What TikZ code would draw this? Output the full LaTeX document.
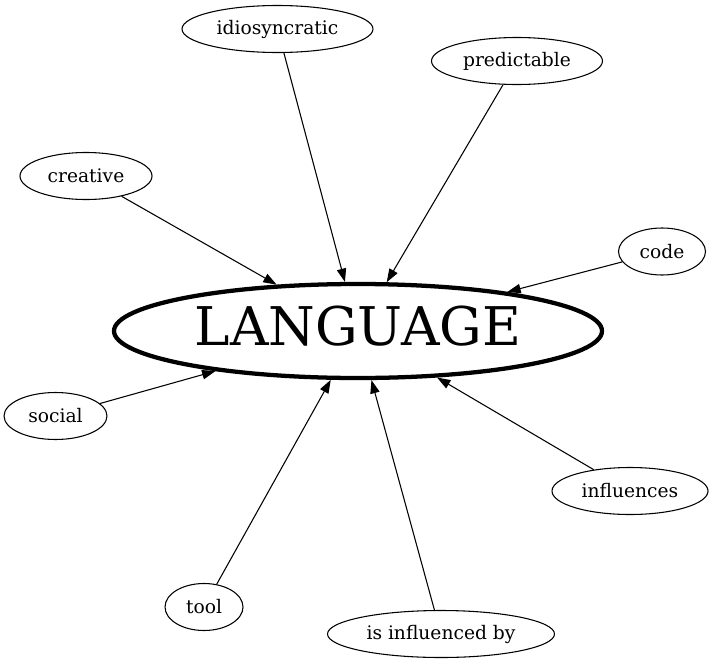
\documentclass[tikz,border=0pt]{standalone}
\usepackage{fontspec}
\setmainfont{DejaVu Serif}
\usetikzlibrary{shapes.geometric,arrows.meta}
\begin{document}
\begin{tikzpicture}[x=0.75pt,y=-0.75pt,
  ell/.style={draw,ellipse,line width=0.8pt,inner sep=0pt,
    label={[font=\fontsize{14}{16}\selectfont]center:#1}},
  big/.style={draw,ellipse,line width=3.2pt,inner sep=0pt,
    label={[font=\fontsize{40}{46}\selectfont,yshift=3.4pt]center:#1}},
  arr/.style={line width=0.8pt,-{Triangle[length=10pt,width=7pt]}}]
\useasboundingbox (0,0) rectangle (714,664);
\node[big=LANGUAGE, minimum width=488*0.75pt, minimum height=94*0.75pt] (L) at (358,331) {};
\node[ell=idiosyncratic, minimum width=191*0.75pt, minimum height=47*0.75pt] (id) at (277.5,29) {};
\node[ell=predictable, minimum width=171*0.75pt, minimum height=47*0.75pt] (pr) at (517,61) {};
\node[ell=creative, minimum width=132*0.75pt, minimum height=47*0.75pt] (cr) at (86,176) {};
\node[ell=code, minimum width=87*0.75pt, minimum height=47*0.75pt] (co) at (662,251.5) {};
\node[ell=social, minimum width=103*0.75pt, minimum height=47*0.75pt] (so) at (55.5,416) {};
\node[ell=influences, minimum width=156*0.75pt, minimum height=47*0.75pt] (in) at (630,491) {};
\node[ell=tool, minimum width=78*0.75pt, minimum height=47*0.75pt] (to) at (204,607) {};
\node[ell=is influenced by, minimum width=227*0.75pt, minimum height=47*0.75pt] (ib) at (441,634) {};
\foreach \n in {id,pr,cr,co,so,in,to,ib} \draw[arr] (\n) -- (L);
\end{tikzpicture}
\end{document}
